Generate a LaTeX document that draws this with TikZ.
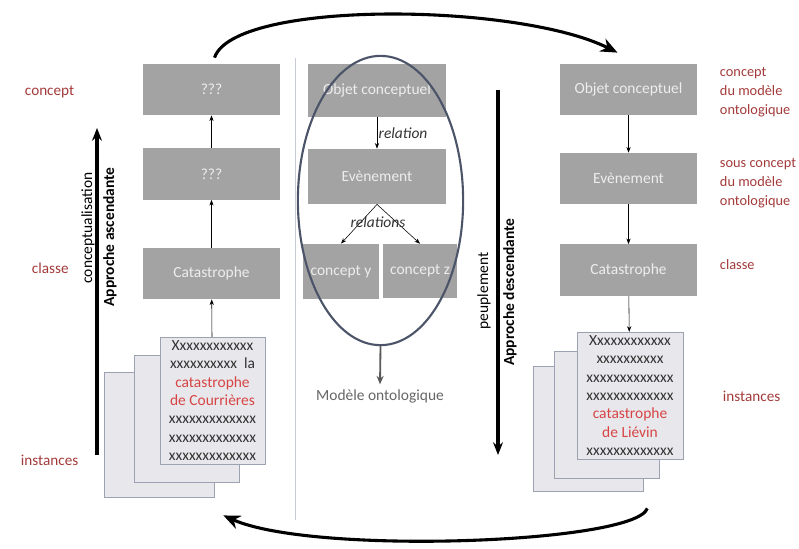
\documentclass[tikz,border=0pt]{standalone}
\usepackage{fontspec}
\setmainfont{Carlito}
\usetikzlibrary{shapes.geometric, arrows.meta, positioning, calc}
\definecolor{boxgray}{HTML}{A3A3A3}
\definecolor{boxtext}{HTML}{EDEDED}
\definecolor{lvlred}{HTML}{A33A3A}
\definecolor{docred}{HTML}{D64545}
\definecolor{docfill}{HTML}{E8E8EC}
\definecolor{docline}{HTML}{9CA2B2}
\definecolor{ellline}{HTML}{4B5468}
\definecolor{sepgray}{HTML}{C8CCD4}
\newcommand{\ontofont}{\fontsize{11}{13}\selectfont}

\begin{document}
\begin{tikzpicture}[
    x=0.025cm, y=-0.025cm,
    font=\ontofont,
    concept/.style={rectangle, fill=boxgray, text=boxtext, minimum width=3.43cm, minimum height=1.28cm, inner sep=0pt},
    doc/.style={rectangle, draw=docline, fill=docfill, text=black!80, minimum width=2.63cm, minimum height=3.17cm, inner sep=0pt, align=center, font=\fontsize{11}{13.1}\selectfont},
    lvl/.style={text=lvlred, align=left, anchor=west, font=\fontsize{10.8}{13.5}\selectfont},
    arrow/.style={-{Stealth[length=4pt, width=3pt]}, thin},
    axis/.style={-{Stealth[length=9pt, width=7pt]}, line width=2.6pt},
    swoop/.style={-{Stealth[length=12pt, width=10pt]}, line width=2.2pt},
    rel/.style={font=\ontofont\itshape, text=black!80}
]
\useasboundingbox (0,0) rectangle (799,548);

% Separator
\coordinate (septop) at (295,58);
\coordinate (sepbot) at (295,520);
\draw[sepgray] (septop) -- (sepbot);

% Left: approche ascendante
\node[concept] (lq1) at (211.5,89.5) {???};
\node[concept] (lq2) at (211.5,174) {???};
\node[concept] (lcat) at (211.5,273.5) {Catastrophe};
\node[doc, minimum width=2.75cm, minimum height=3.13cm] (ld3) at (159,434.5) {};
\node[doc] (ld2) at (186.5,419) {};
\node[doc] (ld1) at (212.5,400.5) {Xxxxxxxxxxxx\\xxxxxxxxxx~~la\\\textcolor{docred}{catastrophe}\\\textcolor{docred}{de Courrières}\\xxxxxxxxxxxxx\\xxxxxxxxxxxxx\\xxxxxxxxxxxxx};

\node[lvl] (lcpt) at (20,92) {concept};
\node[lvl] (lcls) at (27,268) {classe};
\node[lvl] (linst) at (16,460) {instances};

\node[rotate=90] (lconc) at (88,228) {conceptualisation};
\node[rotate=90, font=\ontofont\bfseries] (lasc) at (110,237) {Approche ascendante};
\coordinate (ascbot) at (97,455);
\coordinate (asctop) at (97,128);
\draw[axis] (ascbot) -- (asctop);

\draw[arrow] (lq2) -- (lq1);
\draw[arrow] (lcat) -- (lq2);
\draw[arrow] (ld1) -- (lcat);

% Middle: modele ontologique
\node[concept, minimum width=3.45cm, minimum height=1.33cm] (mobj) at (377,90.5) {Objet conceptuel};
\node[concept, minimum width=3.45cm, minimum height=1.38cm] (mev) at (377,176.5) {Evènement};
\node[concept, minimum width=1.9cm, minimum height=1.38cm] (cy) at (341,271.5) {concept y};
\node[concept, minimum width=1.85cm, minimum height=1.35cm] (cz) at (420,271) {concept z};

\draw[arrow] (mobj) -- (mev) node[rel, midway, right, inner sep=1pt] (rel1) {relation};
\draw[arrow] (mev.south) -- (cy.north);
\draw[arrow] (mev.south) -- (cz.north);
\node[rel] (rels) at ($(mev.south)+(1,18)$) {relations};

\node[draw=ellline, line width=1.5pt, ellipse, minimum width=4.13cm, minimum height=7.23cm, inner sep=0pt] (onto) at (380.5,200.5) {};
\node[text=black!60] (mod) at (380,396) {Modèle ontologique};
\draw[-{Stealth[length=6pt, width=5pt]}, line width=1.3pt, black!65] (onto.south) -- (mod.north);

% Right: approche descendante
\node[concept] (ro1) at (628.5,89.5) {Objet conceptuel};
\node[concept] (rev) at (628.5,178.5) {Evènement};
\node[concept] (rcat) at (628.5,270) {Catastrophe};
\node[doc, minimum width=2.75cm, minimum height=3.13cm] (rd3) at (588,428.5) {};
\node[doc] (rd2) at (606.5,414.5) {};
\node[doc, minimum width=2.65cm] (rd1) at (630,395.5) {Xxxxxxxxxxxx\\xxxxxxxxxx\\xxxxxxxxxxxxx\\xxxxxxxxxxxxx\\\textcolor{docred}{catastrophe}\\\textcolor{docred}{de Liévin}\\xxxxxxxxxxxxx};

\node[lvl, font=\fontsize{10.2}{13.5}\selectfont] (rcpt) at (715,92) {concept\\du modèle\\ontologique};
\node[lvl, font=\fontsize{10.2}{13.5}\selectfont] (rsub) at (715,183) {sous concept\\du modèle\\ontologique};
\node[lvl, font=\fontsize{10.2}{13.5}\selectfont] (rcls) at (715,265) {classe};
\node[lvl] (rinst) at (718,396) {instances};

\node[rotate=90] (rpeu) at (484,291) {peuplement};
\node[rotate=90, font=\ontofont\bfseries] (rdesc) at (510,292) {Approche descendante};
\coordinate (destop) at (498,90);
\coordinate (desbot) at (498,455);
\draw[axis] (destop) -- (desbot);

\draw[arrow] (ro1) -- (rev);
\draw[arrow] (rev) -- (rcat);
\draw[arrow] (rcat) -- (rd1);

% Cycle
\draw[swoop] ($(lq1.north)+(3,-6)$) .. controls +(20,-58) and +(-100,-50) .. ($(ro1.north)+(-11,-11)$);
\draw[swoop] ($(rd3.south east)+(4,17)$) .. controls +(-12,35) and +(90,40) .. ($(ld3.south east)+(9,18)$);

\end{tikzpicture}
\end{document}
